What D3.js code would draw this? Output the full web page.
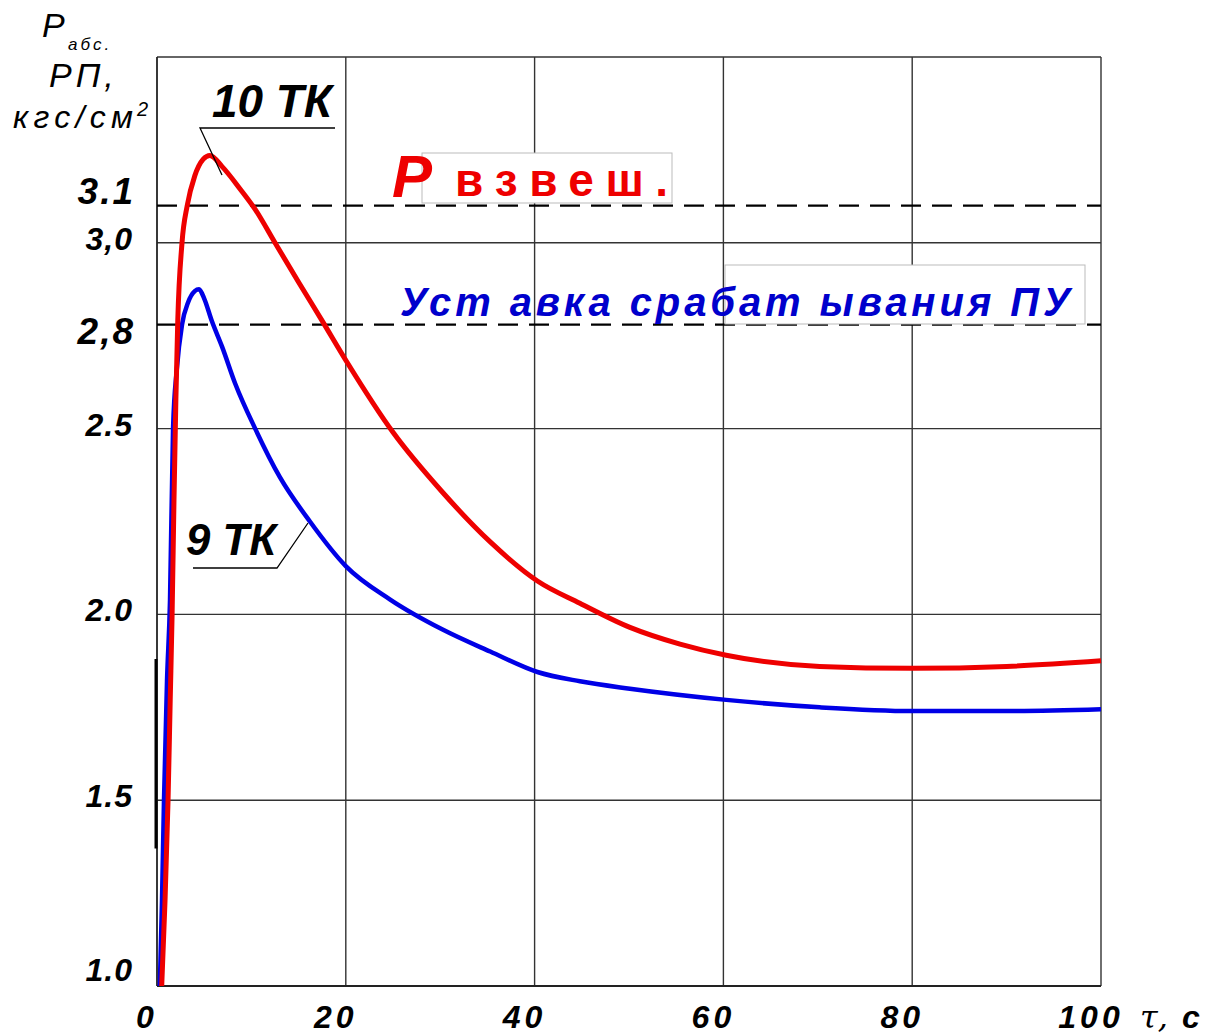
<!DOCTYPE html>
<html><head><meta charset="utf-8">
<script src="https://cdn.jsdelivr.net/npm/d3@7"></script>
<style>html,body{margin:0;padding:0;background:#fff}svg{display:block}</style>
</head><body>
<script>
// ---- data ----
const xTicks = [0, 20, 40, 60, 80, 100];
const xTickLabels = ["0", "20", "40", "60", "80", "100"];
const yTicks = [1.0, 1.5, 2.0, 2.5, 3.0];
const yTickLabels = ["1.0", "1.5", "2.0", "2.5", "3,0"];
const thresholds = [3.1, 2.78];
const thresholdLabels = ["3.1", "2,8"];

const tk9T = [0.3, 0.53, 0.74, 1.06, 1.38, 1.7, 2.1, 2.65, 3.3, 4.0, 4.45, 5.0, 5.8, 6.9, 8.3, 10.4, 13.0, 16.2, 20, 24.7, 30.2, 35.3, 40.3, 44.8, 50.1, 60.3, 70.2, 80, 90, 100];
const tk9P = [1.0, 1.23, 1.50, 1.82, 2.04, 2.50, 2.66, 2.78, 2.84, 2.87, 2.875, 2.85, 2.79, 2.72, 2.62, 2.50, 2.37, 2.25, 2.13, 2.04, 1.96, 1.90, 1.845, 1.82, 1.80, 1.77, 1.75, 1.74, 1.74, 1.745];

const tk10T = [0.5, 0.85, 1.17, 1.4, 1.6, 1.8, 2.0, 2.2, 2.65, 3.2, 4.0, 4.9, 5.6, 6.9, 8.8, 10.4, 12.5, 15.1, 17.5, 20.1, 25, 30.2, 35.3, 40.3, 44.8, 50.1, 55.4, 60.3, 70.2, 80, 90, 100];
const tk10P = [1.0, 1.23, 1.50, 1.77, 2.0, 2.31, 2.58, 2.79, 3.0, 3.1, 3.18, 3.225, 3.235, 3.205, 3.145, 3.09, 3.0, 2.89, 2.79, 2.68, 2.49, 2.33, 2.195, 2.09, 2.03, 1.965, 1.92, 1.89, 1.86, 1.855, 1.86, 1.875];

// ---- layout ----
const W = 1209, H = 1035;
const svg = d3.select("body").append("svg").attr("width", W).attr("height", H);
svg.append("rect").attr("width", W).attr("height", H).attr("fill", "#fff");

const x = d3.scaleLinear().domain([0, 100]).range([157, 1101]);
const y = d3.scaleLinear().domain([1.0, 3.5]).range([986, 57]);
const FONT = "'Liberation Sans', Arial, sans-serif";

// grid
const g = svg.append("g");
g.selectAll("line.vx").data(xTicks.slice(1)).join("line")
  .attr("x1", d => x(d)).attr("x2", d => x(d)).attr("y1", y(3.5)).attr("y2", y(1.0))
  .attr("stroke", "#333").attr("stroke-width", 1.4);
g.selectAll("line.hy").data(yTicks.slice(1).concat([3.5])).join("line")
  .attr("x1", x(0)).attr("x2", x(100)).attr("y1", d => y(d)).attr("y2", d => y(d))
  .attr("stroke", "#333").attr("stroke-width", 1.4);
// axes
g.append("line").attr("x1", x(0)).attr("x2", x(0)).attr("y1", y(3.5)).attr("y2", y(1.0)).attr("stroke", "#222").attr("stroke-width", 1.8);
g.append("line").attr("x1", x(0)).attr("x2", x(100)).attr("y1", y(1.0)).attr("y2", y(1.0)).attr("stroke", "#222").attr("stroke-width", 2);
g.append("line").attr("x1", x(0) - 1).attr("x2", x(0) - 1).attr("y1", y(1.88)).attr("y2", y(1.37)).attr("stroke", "#000").attr("stroke-width", 3);

// threshold dashed lines
g.selectAll("line.th").data(thresholds).join("line")
  .attr("x1", x(0)).attr("x2", x(100)).attr("y1", d => y(d)).attr("y2", d => y(d))
  .attr("stroke", "#000").attr("stroke-width", 2.2).attr("stroke-dasharray", "20,11");

// white label boxes
svg.append("rect").attr("x", 422).attr("y", 153).attr("width", 250).attr("height", 50)
  .attr("fill", "#fff").attr("stroke", "#bbb").attr("stroke-width", 1);
svg.append("rect").attr("x", 725).attr("y", 265).attr("width", 360).attr("height", 59)
  .attr("fill", "#fff").attr("stroke", "#bbb").attr("stroke-width", 1);

// curves
const line = d3.line().curve(d3.curveMonotoneX).x(d => x(d[0])).y(d => y(d[1]));
svg.append("path").datum(tk9T.map((t, i) => [t, tk9P[i]])).attr("d", line)
  .attr("fill", "none").attr("stroke", "#0000e6").attr("stroke-width", 4.5).attr("stroke-linejoin", "round");
svg.append("path").datum(tk10T.map((t, i) => [t, tk10P[i]])).attr("d", line)
  .attr("fill", "none").attr("stroke", "#ee0000").attr("stroke-width", 5).attr("stroke-linejoin", "round");

// y tick labels
svg.selectAll("text.yt").data(yTicks).join("text")
  .attr("x", 133).attr("y", d => y(d) - (d === 1.0 ? 16 : 4)).attr("text-anchor", "end").attr("dominant-baseline", "central")
  .attr("font-family", FONT).attr("font-style", "italic").attr("font-weight", "bold").attr("font-size", 32).attr("letter-spacing", 1)
  .attr("fill", "#000").text((d, i) => yTickLabels[i]);
svg.selectAll("text.tl").data(thresholds).join("text")
  .attr("x", 135).attr("y", (d, i) => y(d) + (i === 0 ? -14 : 7)).attr("text-anchor", "end").attr("dominant-baseline", "central")
  .attr("font-family", FONT).attr("font-style", "italic").attr("font-weight", "bold").attr("font-size", 37).attr("letter-spacing", 2)
  .attr("fill", "#000").text((d, i) => thresholdLabels[i]);

// x tick labels
svg.selectAll("text.xt").data(xTicks).join("text")
  .attr("x", d => x(d) - 10).attr("y", 1028).attr("text-anchor", "middle")
  .attr("font-family", FONT).attr("font-style", "italic").attr("font-weight", "bold").attr("font-size", 32).attr("letter-spacing", 4)
  .attr("fill", "#000").text((d, i) => xTickLabels[i]);
svg.append("text").attr("x", 1140).attr("y", 1028)
  .attr("font-family", "'DejaVu Serif', serif").attr("font-style", "italic").attr("font-size", 32)
  .attr("fill", "#000").text("τ,");
svg.append("text").attr("x", 1182).attr("y", 1028)
  .attr("font-family", FONT).attr("font-style", "italic").attr("font-weight", "bold").attr("font-size", 32)
  .attr("fill", "#000").text("с");

// y axis title
const tf = sel => sel.attr("font-family", FONT).attr("font-style", "italic").attr("fill", "#000");
svg.append("text").call(tf).attr("x", 42).attr("y", 37).attr("font-size", 34).text("Р");
svg.append("text").call(tf).attr("x", 68).attr("y", 50).attr("font-size", 17).attr("letter-spacing", 3).text("абс.");
svg.append("text").call(tf).attr("x", 49).attr("y", 87).attr("font-size", 34).attr("letter-spacing", 4).text("РП,");
svg.append("text").call(tf).attr("x", 13).attr("y", 128).attr("font-size", 32).attr("letter-spacing", 2)
  .attr("textLength", 122).attr("lengthAdjust", "spacing").text("кгс/см");
svg.append("text").call(tf).attr("x", 137).attr("y", 116).attr("font-size", 20).text("2");

// series labels with leaders
svg.append("text").call(tf).attr("x", 212).attr("y", 117).attr("font-size", 46).attr("font-weight", "bold")
  .attr("textLength", 120).attr("lengthAdjust", "spacingAndGlyphs").text("10 ТК");
svg.append("polyline").attr("points", [[335, 128], [200, 128], [222, 175]].join(" "))
  .attr("fill", "none").attr("stroke", "#000").attr("stroke-width", 1.3);
svg.append("text").call(tf).attr("x", 186).attr("y", 555).attr("font-size", 45).attr("font-weight", "bold")
  .attr("textLength", 90).attr("lengthAdjust", "spacingAndGlyphs").text("9 ТК");
svg.append("polyline").attr("points", [[193, 568], [277, 568], [308, 523]].join(" "))
  .attr("fill", "none").attr("stroke", "#000").attr("stroke-width", 1.3);

// annotation texts
svg.append("text").attr("x", 392).attr("y", 197).attr("font-family", FONT).attr("font-style", "italic").attr("font-weight", "bold")
  .attr("font-size", 60).attr("fill", "#ee0000").text("Р");
svg.append("text").attr("x", 455).attr("y", 196).attr("font-family", FONT).attr("font-weight", "bold")
  .attr("font-size", 46).attr("fill", "#ee0000")
  .attr("textLength", 213).attr("lengthAdjust", "spacing").text("взвеш.");
svg.append("text").attr("x", 400).attr("y", 316).attr("font-family", FONT).attr("font-style", "italic").attr("font-weight", "bold")
  .attr("font-size", 40).attr("fill", "#0000cc")
  .attr("textLength", 670).attr("lengthAdjust", "spacing").text("Уст авка срабат ывания ПУ");
</script>
</body></html>
